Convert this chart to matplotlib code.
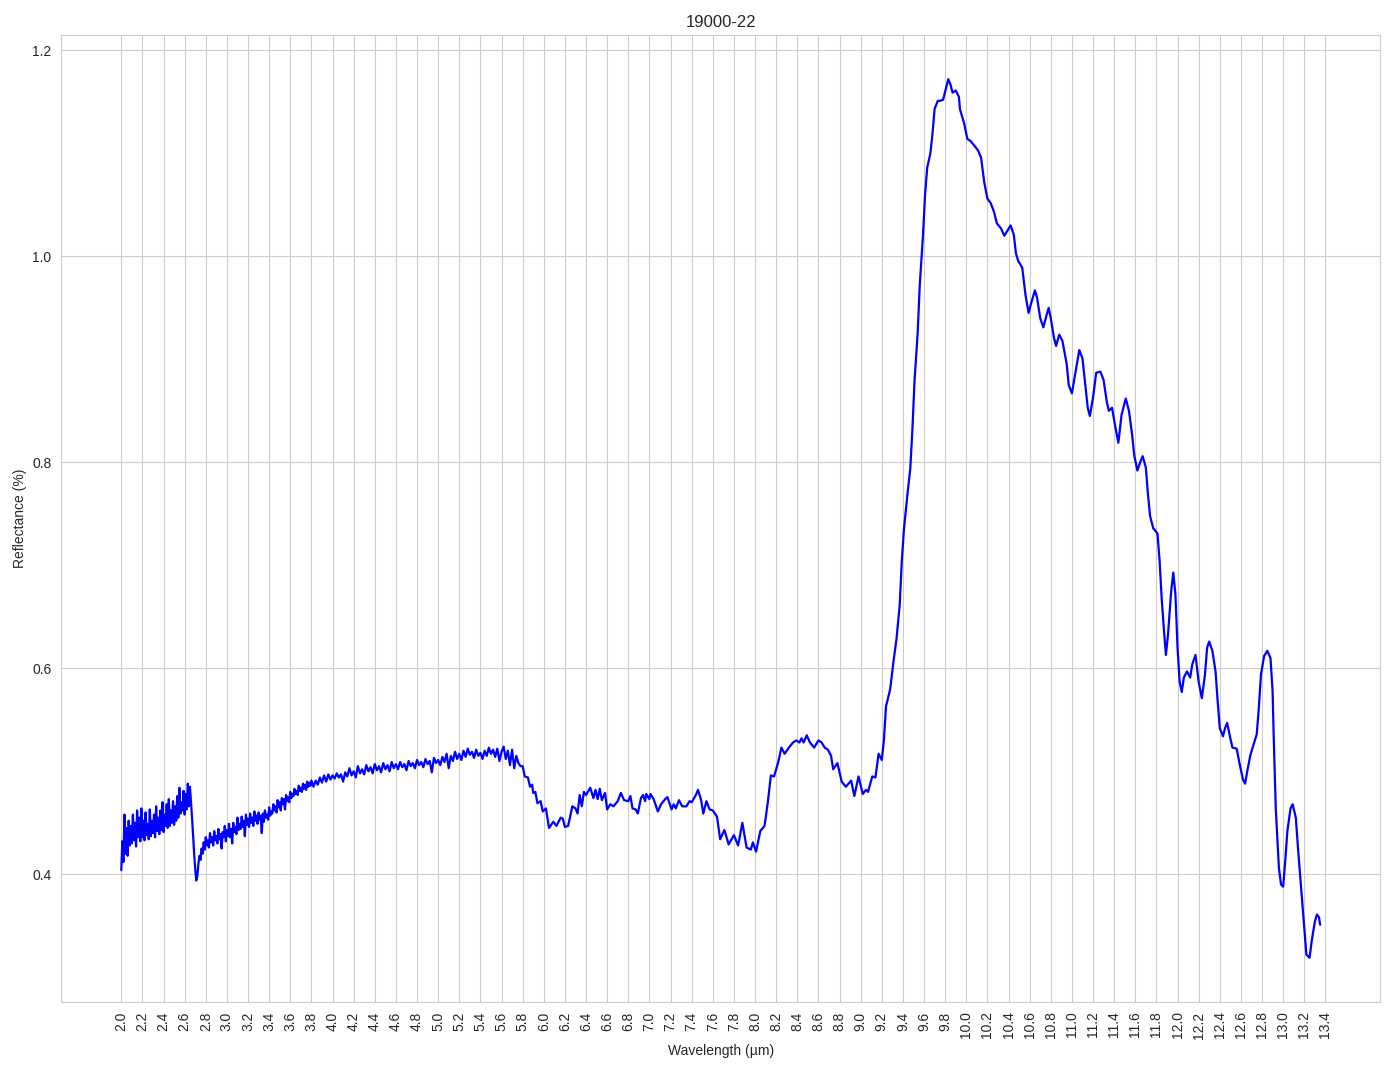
import matplotlib
matplotlib.use("Agg")
import matplotlib.pyplot as plt
import numpy as np
import seaborn as sns


TITLE = "19000-22"
X_LABEL = "Wavelength (µm)"
Y_LABEL = "Reflectance (%)"
LINE_COLOR = "blue"

# noisy band, 2.00 -> 2.66 um (0.01 um steps)
NOISY_A = [
    0.404, 0.432, 0.412, 0.458, 0.420, 0.445, 0.418, 0.452, 0.428, 0.447,
    0.430, 0.458, 0.433, 0.450, 0.427, 0.462, 0.436, 0.455, 0.432, 0.464,
    0.436, 0.452, 0.433, 0.460, 0.438, 0.449, 0.434, 0.463, 0.437, 0.452,
    0.440, 0.458, 0.436, 0.466, 0.442, 0.455, 0.439, 0.462, 0.443, 0.470,
    0.441, 0.458, 0.447, 0.468, 0.445, 0.473, 0.447, 0.462, 0.450, 0.471,
    0.448, 0.466, 0.452, 0.476, 0.455, 0.484, 0.459, 0.470, 0.462, 0.481,
    0.458, 0.478, 0.463, 0.488, 0.466, 0.485, 0.470,
]
NOISY_A_RANGE = (2.00, 2.66)

# water-band drop
DROP_WL = [2.67, 2.68, 2.69, 2.70, 2.71, 2.72]
DROP_R = [0.455, 0.437, 0.420, 0.405, 0.394, 0.398]

# noisy recovery, 2.73 -> 3.80 um
NOISY_B = [
    0.410, 0.418, 0.414, 0.425, 0.420, 0.431, 0.424, 0.436, 0.428, 0.433,
    0.426, 0.440, 0.431, 0.436, 0.428, 0.442, 0.433, 0.437, 0.430, 0.444,
    0.434, 0.439, 0.425, 0.441, 0.436, 0.447, 0.432, 0.443, 0.437, 0.449,
    0.436, 0.444, 0.430, 0.450, 0.441, 0.446, 0.439, 0.455, 0.443, 0.449,
    0.444, 0.456, 0.446, 0.452, 0.437, 0.458, 0.448, 0.454, 0.446, 0.459,
    0.450, 0.455, 0.447, 0.461, 0.452, 0.457, 0.449, 0.460, 0.453, 0.457,
    0.440, 0.459, 0.451, 0.462, 0.455, 0.458, 0.453, 0.465, 0.457, 0.461,
    0.459, 0.468, 0.462, 0.466, 0.460, 0.472, 0.465, 0.470, 0.462, 0.474,
    0.468, 0.473, 0.463, 0.477, 0.471, 0.475, 0.470, 0.480, 0.474, 0.478,
    0.476, 0.483, 0.478, 0.481, 0.477, 0.486, 0.481, 0.484, 0.480, 0.488,
    0.483, 0.487, 0.482, 0.490, 0.485, 0.489, 0.486, 0.491,
]
NOISY_B_RANGE = (2.73, 3.80)

# plateau, 3.82 -> 5.78 um
NOISY_C = [
    0.485, 0.491, 0.487, 0.494, 0.489, 0.496, 0.490, 0.497, 0.492, 0.496,
    0.493, 0.498, 0.494, 0.497, 0.490, 0.499, 0.495, 0.503, 0.496, 0.500,
    0.494, 0.505, 0.498, 0.502, 0.497, 0.506, 0.500, 0.504, 0.498, 0.507,
    0.501, 0.505, 0.499, 0.508, 0.502, 0.506, 0.500, 0.509, 0.503, 0.507,
    0.502, 0.509, 0.504, 0.507, 0.501, 0.510, 0.505, 0.508, 0.503, 0.511,
    0.506, 0.509, 0.504, 0.512, 0.507, 0.510, 0.499, 0.513, 0.508, 0.511,
    0.506, 0.514, 0.509, 0.517, 0.503, 0.515, 0.510, 0.519, 0.512, 0.517,
    0.511, 0.520, 0.514, 0.522, 0.516, 0.519, 0.513, 0.521, 0.515, 0.518,
    0.512, 0.520, 0.515, 0.523, 0.517, 0.521, 0.514, 0.522, 0.510, 0.519,
    0.524, 0.512, 0.520, 0.506, 0.521, 0.503, 0.515, 0.508, 0.505,
]
NOISY_C_RANGE = (3.82, 5.78)

# smoother part of the spectrum
SMOOTH_WL = [
    5.80, 5.82, 5.85, 5.87, 5.89, 5.90, 5.92, 5.94, 5.97, 5.99,
    6.02, 6.05, 6.09, 6.12, 6.16, 6.18, 6.20, 6.23, 6.25, 6.27,
    6.30, 6.32, 6.34, 6.36, 6.38, 6.40, 6.44, 6.47, 6.49, 6.51,
    6.53, 6.55, 6.58, 6.60, 6.63, 6.66, 6.70, 6.73, 6.76, 6.80,
    6.82, 6.84, 6.87, 6.89, 6.92, 6.94, 6.96, 6.97, 7.00, 7.01,
    7.04, 7.08, 7.11, 7.15, 7.17, 7.21, 7.23, 7.25, 7.28, 7.31,
    7.35, 7.38, 7.40, 7.44, 7.46, 7.49, 7.51, 7.54, 7.57, 7.60,
    7.64, 7.67, 7.71, 7.75, 7.80, 7.84, 7.88, 7.92, 7.96, 7.98,
    8.01, 8.05, 8.09, 8.12, 8.15, 8.18, 8.22, 8.25, 8.28, 8.32,
    8.36, 8.39, 8.42, 8.44, 8.46, 8.49, 8.52, 8.56, 8.60, 8.63,
    8.66, 8.69, 8.72, 8.74, 8.78, 8.82, 8.86, 8.91, 8.94, 8.98,
    9.02, 9.05, 9.07, 9.11, 9.14, 9.17, 9.20, 9.22, 9.24, 9.28,
    9.31, 9.34, 9.37, 9.39, 9.41, 9.44, 9.47, 9.49, 9.51, 9.54,
    9.56, 9.59, 9.61, 9.63, 9.66, 9.68, 9.70, 9.73, 9.75, 9.78,
    9.81, 9.83, 9.85, 9.87, 9.90, 9.93, 9.94, 9.98, 10.01, 10.04,
    10.08, 10.11, 10.14, 10.17, 10.20, 10.23, 10.26, 10.29, 10.33, 10.36,
    10.39, 10.42, 10.45, 10.47, 10.49, 10.53, 10.56, 10.59, 10.61, 10.65,
    10.67, 10.70, 10.73, 10.76, 10.78, 10.80, 10.83, 10.85, 10.88, 10.91,
    10.95, 10.97, 11.00, 11.03, 11.07, 11.10, 11.13, 11.15, 11.17, 11.20,
    11.23, 11.27, 11.30, 11.33, 11.35, 11.38, 11.41, 11.44, 11.47, 11.51,
    11.54, 11.57, 11.59, 11.62, 11.65, 11.67, 11.70, 11.72, 11.74, 11.77,
    11.81, 11.83, 11.85, 11.87, 11.89, 11.91, 11.94, 11.96, 11.98, 12.00,
    12.02, 12.04, 12.06, 12.09, 12.12, 12.14, 12.17, 12.20, 12.23, 12.26,
    12.28, 12.30, 12.33, 12.36, 12.38, 12.40, 12.43, 12.45, 12.47, 12.50,
    12.52, 12.56, 12.59, 12.62, 12.64, 12.66, 12.69, 12.72, 12.75, 12.77,
    12.79, 12.82, 12.85, 12.88, 12.90, 12.91, 12.93, 12.96, 12.98, 13.00,
    13.02, 13.04, 13.07, 13.09, 13.12, 13.14, 13.17, 13.20, 13.22, 13.25,
    13.27, 13.30, 13.32, 13.34, 13.35,
]
SMOOTH_R = [
    0.505, 0.495, 0.494, 0.485, 0.487, 0.479, 0.480, 0.469, 0.471, 0.461,
    0.464, 0.445, 0.451, 0.447, 0.455, 0.454, 0.446, 0.447, 0.456, 0.466,
    0.464, 0.459, 0.477, 0.466, 0.480, 0.477, 0.484, 0.474, 0.482, 0.473,
    0.483, 0.472, 0.479, 0.463, 0.468, 0.466, 0.471, 0.479, 0.472, 0.471,
    0.476, 0.464, 0.463, 0.459, 0.474, 0.477, 0.471, 0.478, 0.473, 0.478,
    0.473, 0.461, 0.468, 0.473, 0.475, 0.463, 0.468, 0.464, 0.472, 0.466,
    0.466, 0.471, 0.470, 0.477, 0.482, 0.472, 0.459, 0.471, 0.463, 0.462,
    0.456, 0.434, 0.443, 0.429, 0.438, 0.428, 0.450, 0.426, 0.424, 0.431,
    0.422, 0.442, 0.447, 0.469, 0.496, 0.495, 0.509, 0.523, 0.517, 0.523,
    0.528, 0.530, 0.528, 0.532, 0.528, 0.535, 0.528, 0.523, 0.530, 0.528,
    0.523, 0.521, 0.515, 0.502, 0.508, 0.490, 0.485, 0.491, 0.476, 0.495,
    0.478, 0.482, 0.480, 0.495, 0.494, 0.517, 0.511, 0.530, 0.563, 0.580,
    0.606, 0.629, 0.662, 0.705, 0.735, 0.766, 0.794, 0.832, 0.879, 0.926,
    0.973, 1.020, 1.060, 1.086, 1.100, 1.119, 1.143, 1.151, 1.151, 1.152,
    1.164, 1.172, 1.167, 1.159, 1.161, 1.155, 1.143, 1.129, 1.114, 1.112,
    1.107, 1.103, 1.096, 1.072, 1.056, 1.052, 1.044, 1.032, 1.027, 1.020,
    1.025, 1.030, 1.021, 1.003, 0.996, 0.989, 0.963, 0.945, 0.953, 0.967,
    0.960, 0.940, 0.931, 0.943, 0.950, 0.940, 0.921, 0.913, 0.924, 0.918,
    0.896, 0.875, 0.867, 0.885, 0.909, 0.901, 0.872, 0.853, 0.845, 0.863,
    0.887, 0.888, 0.880, 0.859, 0.850, 0.853, 0.835, 0.819, 0.846, 0.862,
    0.850, 0.827, 0.807, 0.792, 0.801, 0.806, 0.795, 0.769, 0.748, 0.736,
    0.731, 0.705, 0.668, 0.639, 0.613, 0.633, 0.675, 0.693, 0.672, 0.620,
    0.587, 0.577, 0.591, 0.597, 0.591, 0.604, 0.613, 0.587, 0.571, 0.594,
    0.620, 0.626, 0.617, 0.597, 0.568, 0.542, 0.534, 0.542, 0.547, 0.532,
    0.523, 0.522, 0.506, 0.492, 0.488, 0.500, 0.516, 0.526, 0.536, 0.562,
    0.594, 0.612, 0.617, 0.610, 0.578, 0.536, 0.464, 0.406, 0.390, 0.388,
    0.413, 0.442, 0.464, 0.468, 0.455, 0.426, 0.387, 0.348, 0.322, 0.319,
    0.335, 0.354, 0.361, 0.358, 0.351,
]

X_TICKS = np.round(np.arange(2.0, 13.41, 0.2), 1)
Y_TICKS = [0.4, 0.6, 0.8, 1.0, 1.2]


def build_spectrum():
    wl_a = np.linspace(*NOISY_A_RANGE, len(NOISY_A))
    wl_b = np.linspace(*NOISY_B_RANGE, len(NOISY_B))
    wl_c = np.linspace(*NOISY_C_RANGE, len(NOISY_C))
    wavelength = np.concatenate([wl_a, DROP_WL, wl_b, wl_c, SMOOTH_WL])
    reflectance = np.concatenate([NOISY_A, DROP_R, NOISY_B, NOISY_C, SMOOTH_R])
    return wavelength, reflectance


def main():
    sns.set_style("whitegrid")
    plt.rcParams["font.family"] = ["Liberation Sans", "DejaVu Sans"]

    wavelength, reflectance = build_spectrum()

    fig, ax = plt.subplots(figsize=(13.94, 10.69), dpi=100)
    ax.plot(wavelength, reflectance, color=LINE_COLOR, linewidth=1.6)

    ax.set_xticks(X_TICKS)
    ax.set_xticklabels([f"{t:.1f}" for t in X_TICKS], rotation=90)
    ax.set_yticks(Y_TICKS)
    ax.set_title(TITLE)
    ax.set_xlabel(X_LABEL)
    ax.set_ylabel(Y_LABEL)

    fig.subplots_adjust(left=0.044, right=0.99, top=0.967, bottom=0.063)
    fig.savefig("out.png")
    plt.close(fig)


if __name__ == "__main__":
    main()
